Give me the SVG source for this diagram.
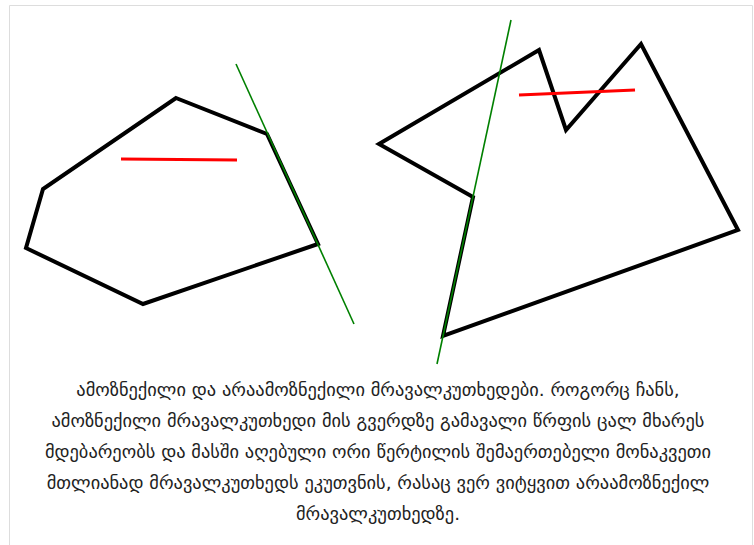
<svg xmlns="http://www.w3.org/2000/svg" width="754" height="545" viewBox="0 0 754 545">
<style>
.poly{fill:none;stroke:#000;stroke-width:4;stroke-linejoin:miter}
.red{stroke:#f00;stroke-width:3}
.green{stroke:#008000;stroke-width:1.6}
.cap{font-family:"DejaVu Sans",sans-serif;font-size:18.4px;fill:#222;text-anchor:middle}
</style>
<rect x="0" y="0" width="754" height="545" fill="#fff"/>
<path d="M9.5 545 V5.5 H752.5 V545" fill="none" stroke="#ddd" stroke-width="1"/>
<g id="convex">
<polygon class="poly" points="176,98 267,134 318,244 143,304 26,248 43,189"/>
<line class="red" x1="121" y1="159" x2="237" y2="160"/>
</g>
<g id="concave">
<polygon class="poly" points="539,50 566,130 641,44 738,230 443,336 473,197 379,144"/>
<line class="red" x1="519" y1="95" x2="635" y2="90"/>
</g>
<g id="connectors">
<line class="green" x1="236" y1="64" x2="354" y2="324"/>
<line class="green" x1="511" y1="20" x2="437" y2="364"/>
</g>
<g id="caption">
<text class="cap" x="378" y="396">ამოზნექილი და არაამოზნექილი მრავალკუთხედები. როგორც ჩანს,</text>
<text class="cap" x="378" y="427">ამოზნექილი მრავალკუთხედი მის გვერდზე გამავალი წრფის ცალ მხარეს</text>
<text class="cap" x="378" y="458">მდებარეობს და მასში აღებული ორი წერტილის შემაერთებელი მონაკვეთი</text>
<text class="cap" x="378" y="489">მთლიანად მრავალკუთხედს ეკუთვნის, რასაც ვერ ვიტყვით არაამოზნექილ</text>
<text class="cap" x="378" y="520">მრავალკუთხედზე.</text>
</g>
</svg>
